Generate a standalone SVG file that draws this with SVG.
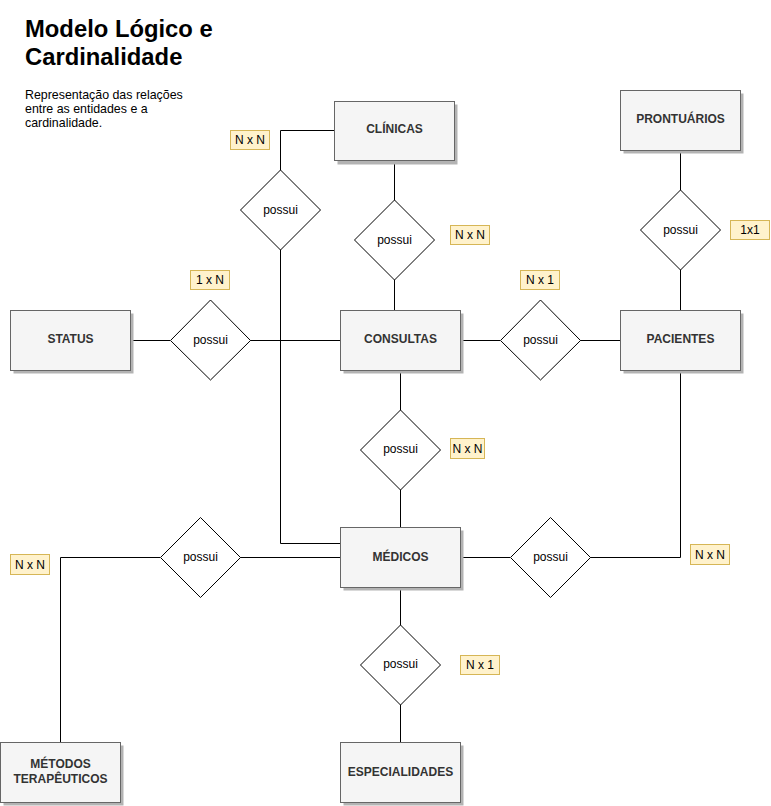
<svg xmlns="http://www.w3.org/2000/svg" width="771" height="806" viewBox="0 0 771 806">
<defs>
<style>
.ent rect.box{fill:#f5f5f5;stroke:#666;stroke-width:1}
.ent rect.sh{fill:#b3b3b3;stroke:none}
.ent text{font-family:"Liberation Sans",Arial,sans-serif;font-size:12px;font-weight:bold;fill:#333;text-anchor:middle}
.rel polygon{fill:#fff;stroke:#000;stroke-width:1}
.rel text{font-family:"Liberation Sans",Arial,sans-serif;font-size:12px;fill:#000;text-anchor:middle}
.card rect{fill:#fff2cc;stroke:#d6b656;stroke-width:1}
.card text{font-family:"Liberation Sans",Arial,sans-serif;font-size:12px;fill:#000;text-anchor:middle}
.conn path{fill:none;stroke:#000;stroke-width:1}
</style>
</defs>
<rect x="0" y="0" width="771" height="806" fill="#fff"/>
<g id="title">
<text x="25" y="37" font-family="Liberation Sans,Arial,sans-serif" font-size="23.8" font-weight="bold" fill="#000">Modelo Lógico e</text>
<text x="25" y="65" font-family="Liberation Sans,Arial,sans-serif" font-size="23.8" font-weight="bold" fill="#000">Cardinalidade</text>
<text font-family="Liberation Sans,Arial,sans-serif" font-size="12.4" fill="#000"><tspan x="25" y="99">Representação das relações</tspan><tspan x="25" y="113">entre as entidades e a</tspan><tspan x="25" y="127">cardinalidade.</tspan></text>
</g>
<g id="connectors" class="conn">
<path d="M334.5 130.5 H280.5 V170"/>
<path d="M280.5 250 V543.5 H340"/>
<path d="M394.5 161 V200"/>
<path d="M394.5 280 V310"/>
<path d="M130 340.5 H170"/>
<path d="M250 340.5 H340"/>
<path d="M460 340.5 H500"/>
<path d="M580 340.5 H620"/>
<path d="M680.5 150 V190"/>
<path d="M680.5 270 V310"/>
<path d="M400.5 370 V410"/>
<path d="M400.5 490 V527"/>
<path d="M460 557.5 H510"/>
<path d="M590 557.5 H680.5 V370"/>
<path d="M340 557.5 H240"/>
<path d="M160 557.5 H60.5 V742"/>
<path d="M400.5 587 V625"/>
<path d="M400.5 705 V742"/>
</g>
<g id="clinicas" class="ent"><rect class="sh" x="337.5" y="104.5" width="120" height="60"/><rect class="box" x="334.5" y="101.5" width="120" height="59"/><text x="394.5" y="133">CLÍNICAS</text></g>
<g id="prontuarios" class="ent"><rect class="sh" x="623.5" y="93.5" width="120" height="60"/><rect class="box" x="620.5" y="90.5" width="120" height="60"/><text x="680.5" y="123">PRONTUÁRIOS</text></g>
<g id="status" class="ent"><rect class="sh" x="13.5" y="313.5" width="120" height="60"/><rect class="box" x="10.5" y="310.5" width="120" height="60"/><text x="70.5" y="343">STATUS</text></g>
<g id="consultas" class="ent"><rect class="sh" x="343.5" y="313.5" width="120" height="60"/><rect class="box" x="340.5" y="310.5" width="120" height="60"/><text x="400.5" y="343">CONSULTAS</text></g>
<g id="pacientes" class="ent"><rect class="sh" x="623.5" y="313.5" width="120" height="60"/><rect class="box" x="620.5" y="310.5" width="120" height="60"/><text x="680.5" y="343">PACIENTES</text></g>
<g id="medicos" class="ent"><rect class="sh" x="343.5" y="530.5" width="120" height="60"/><rect class="box" x="340.5" y="527.5" width="120" height="60"/><text x="400.5" y="561">MÉDICOS</text></g>
<g id="metodos" class="ent"><rect class="sh" x="3.5" y="745.5" width="120" height="60"/><rect class="box" x="0.5" y="742.5" width="120" height="60"/><text x="60.5" y="768">MÉTODOS</text><text x="60.5" y="783">TERAPÊUTICOS</text></g>
<g id="especialidades" class="ent"><rect class="sh" x="343.5" y="745.5" width="120" height="60"/><rect class="box" x="340.5" y="742.5" width="120" height="60"/><text x="400.5" y="776">ESPECIALIDADES</text></g>
<g id="rel-clinicas-medicos" class="rel"><polygon points="280.5,170 320.5,210 280.5,250 240.5,210"/><text x="280.5" y="214">possui</text></g>
<g id="rel-clinicas-consultas" class="rel"><polygon points="394.5,200 434.5,240 394.5,280 354.5,240"/><text x="394.5" y="244">possui</text></g>
<g id="rel-prontuarios-pacientes" class="rel"><polygon points="680.5,190 720.5,230 680.5,270 640.5,230"/><text x="680.5" y="234">possui</text></g>
<g id="rel-status-consultas" class="rel"><polygon points="210.5,300 250.5,340.5 210.5,380 170.5,340.5"/><text x="210.5" y="344">possui</text></g>
<g id="rel-consultas-pacientes" class="rel"><polygon points="540.5,300 580.5,340.5 540.5,380 500.5,340.5"/><text x="540.5" y="344">possui</text></g>
<g id="rel-consultas-medicos" class="rel"><polygon points="400.5,410 440.5,450 400.5,490 360.5,450"/><text x="400.5" y="453">possui</text></g>
<g id="rel-medicos-metodos" class="rel"><polygon points="200.5,517.5 240.5,557.5 200.5,597.5 160.5,557.5"/><text x="200.5" y="561">possui</text></g>
<g id="rel-medicos-pacientes" class="rel"><polygon points="550.5,517.5 590.5,557.5 550.5,597.5 510.5,557.5"/><text x="550.5" y="561">possui</text></g>
<g id="rel-medicos-especialidades" class="rel"><polygon points="400.5,625 440.5,665 400.5,705 360.5,665"/><text x="400.5" y="668">possui</text></g>
<g id="card1" class="card"><rect x="230.5" y="130.5" width="39" height="19"/><text x="250" y="144">N x N</text></g>
<g id="card2" class="card"><rect x="450.5" y="225.5" width="39" height="19"/><text x="470" y="239">N x N</text></g>
<g id="card3" class="card"><rect x="730.5" y="220.5" width="39" height="19"/><text x="750" y="234">1x1</text></g>
<g id="card4" class="card"><rect x="190.5" y="270.5" width="39" height="19"/><text x="210" y="284">1 x N</text></g>
<g id="card5" class="card"><rect x="520.5" y="270.5" width="39" height="19"/><text x="540" y="284">N x 1</text></g>
<g id="card6" class="card"><rect x="450.5" y="438.5" width="34" height="20"/><text x="467.5" y="453">N x N</text></g>
<g id="card7" class="card"><rect x="690.5" y="544.5" width="39" height="20"/><text x="710" y="559">N x N</text></g>
<g id="card8" class="card"><rect x="10.5" y="554.5" width="39" height="20"/><text x="30" y="569">N x N</text></g>
<g id="card9" class="card"><rect x="460.5" y="655.5" width="39" height="19"/><text x="480" y="669">N x 1</text></g>
</svg>
